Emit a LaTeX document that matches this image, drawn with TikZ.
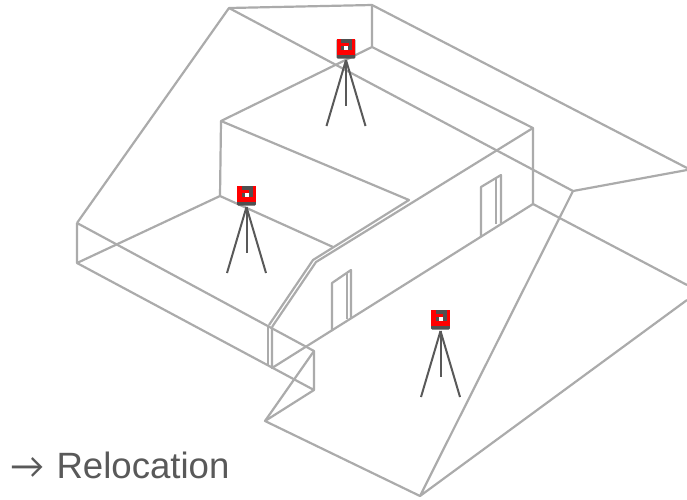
\documentclass[tikz,border=0pt]{standalone}
\usepackage{fontspec}
\setmainfont{Liberation Sans}
\newfontfamily\arrowfont{Carlito}
\definecolor{wallgray}{HTML}{ABABAB}
\definecolor{legdark}{HTML}{595959}
\definecolor{headdark}{HTML}{505050}
\tikzset{
  wall/.style={line width=2.2pt,wallgray,line join=round},
  leg/.style={line width=2pt,legdark},
  station/.pic={
    \fill[headdark,rounded corners=1pt] (-9.3,0) rectangle (9.3,19.5);
    \fill[red] (-9.3,0) rectangle (-5,15.5);
    \fill[red] (6,0) rectangle (9.3,15.5);
    \fill[red] (-5,3.5) rectangle (2.5,6.5);
    \fill[red] (-5,11) rectangle (6,15.5);
    \fill[white] (-2,6.5) rectangle (2.3,11);
    \draw[leg] (0,21)--(-19.5,87);
    \draw[leg] (0,21)--(19.5,87);
    \draw[leg] (0,21)--(0,67);
  }
}
\begin{document}
\begin{tikzpicture}[x=1pt,y=-1pt]
  \useasboundingbox (0,0) rectangle (687,499);
  % roof outline
  \draw[wall] (77,223)--(229,8)--(372,5)--(687,168);
  \draw[wall] (229,8)--(573,191)--(687,170);
  \draw[wall] (372,5)--(372,47)--(533,128)--(533,204)--(687,285);
  \draw[wall] (372,47)--(221,121)--(220,196);
  % inner room
  \draw[wall] (221,121)--(409,200)--(313,260)--(269,325);
  \draw[wall] (533,128)--(316,262)--(272,327);
  \draw[wall] (77,263)--(220,196)--(333,247);
  % end walls
  \draw[wall] (77,223)--(77,263)--(314,390)--(314,351)--(77,223);
  \draw[wall] (268,325)--(268,366);
  \draw[wall] (272,327)--(272,368)--(533,204);
  % ground
  \draw[wall] (573,191)--(420,496)--(687,300);
  \draw[wall] (420,496)--(265,421)--(314,351);
  \draw[wall] (265,421)--(314,390);
  % doors
  \draw[wall] (332,331)--(332,283)--(351,270)--(351,318);
  \draw[wall] (347,272)--(347,319);
  \draw[wall] (481,237)--(481,187)--(501,175)--(501,223);
  \draw[wall] (496,178)--(496,224);
  % stations
  \pic at (346,39) {station};
  \pic at (246.5,186) {station};
  \pic at (440.5,310) {station};
  \node[anchor=base west,inner sep=0pt,text=legdark,font=\fontsize{36.6}{36}\selectfont] (reloc) at (10.5,478) {{\arrowfont →}\hspace{2.5pt} Relocation};
\end{tikzpicture}
\end{document}
